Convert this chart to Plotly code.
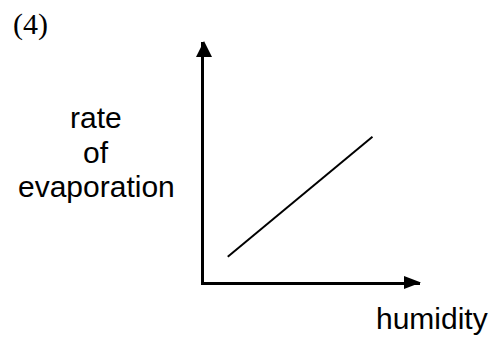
import plotly.graph_objects as go

# data (schematic: rate of evaporation vs humidity)
humidity = [1.1, 7.8]
rate = [1.05, 6.05]

panel_label = "(4)"
x_label = "humidity"
y_label_lines = ["rate", "of", "evaporation"]

W, H = 498, 337
L, R, T, B = 204, 78, 42, 55
pw, ph = W - L - R, H - T - B


def px(x):
    return (x - L) / pw


def py(y):
    return (H - B - y) / ph


fig = go.Figure()
fig.add_trace(go.Scatter(x=humidity, y=rate, mode="lines",
                         line=dict(color="black", width=2),
                         hoverinfo="skip", showlegend=False))

fig.update_xaxes(range=[0, 10], showline=True, linecolor="black", linewidth=3,
                 showgrid=False, zeroline=False, showticklabels=False, ticks="")
fig.update_yaxes(range=[0, 10], showline=True, linecolor="black", linewidth=3,
                 showgrid=False, zeroline=False, showticklabels=False, ticks="")

# arrowheads
fig.add_shape(type="path", xref="paper", yref="paper",
              path=f"M {px(196)},{py(57)} L {px(212)},{py(57)} L {px(204)},{py(41)} Z",
              fillcolor="black", line=dict(width=0), layer="above")
fig.add_shape(type="path", xref="paper", yref="paper",
              path=f"M {px(404)},{py(276)} L {px(404)},{py(289)} L {px(421)},{py(282.5)} Z",
              fillcolor="black", line=dict(width=0), layer="above")

sans = dict(family="Liberation Sans, Arial, sans-serif", size=30, color="black")
for txt, yc in zip(y_label_lines, [117.6, 152.6, 186.6]):
    fig.add_annotation(text=txt, xref="paper", yref="paper", x=px(96), y=py(yc),
                       xanchor="center", yanchor="middle", showarrow=False, font=sans)
fig.add_annotation(text=x_label, xref="paper", yref="paper", x=px(431.5), y=py(318.6),
                   xanchor="center", yanchor="middle", showarrow=False, font=sans)
fig.add_annotation(text=panel_label, xref="paper", yref="paper", x=px(30.5), y=py(23.9),
                   xanchor="center", yanchor="middle", showarrow=False,
                   font=dict(family="Liberation Serif, Times New Roman, serif", size=30, color="black"))

fig.update_layout(width=W, height=H, margin=dict(l=L, r=R, t=T, b=B),
                  paper_bgcolor="white", plot_bgcolor="white", hovermode=False)

fig.write_html("out.html", config={"displayModeBar": False},
               post_script="document.body.style.margin='0';document.body.style.padding='0';")
